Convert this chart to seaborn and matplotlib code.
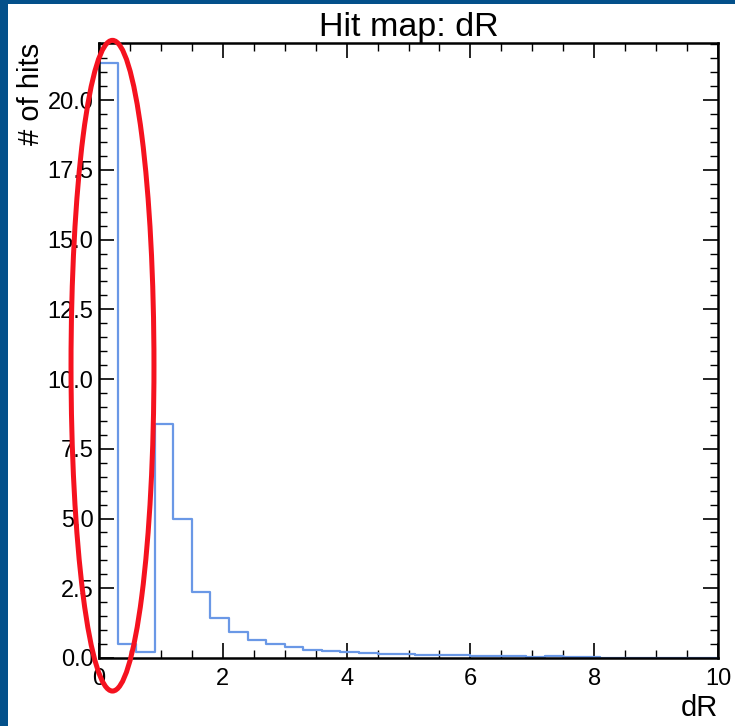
import numpy as np
import pandas as pd
import matplotlib
matplotlib.use("Agg")
import matplotlib.pyplot as plt
import seaborn as sns
from matplotlib.patches import Ellipse, Rectangle
from matplotlib.ticker import MultipleLocator

# bin edges of the dR histogram (width 0.3)
bin_edges = [round(0.3 * i, 2) for i in range(35)]
# counts per bin
counts = [21.35, 0.50, 0.22, 8.40, 5.00, 2.35, 1.42, 0.94, 0.66, 0.50,
          0.38, 0.30, 0.24, 0.20, 0.17, 0.16, 0.13, 0.10, 0.10, 0.09,
          0.08, 0.08, 0.07, 0.04, 0.06, 0.05, 0.05, 0.0, 0.0, 0.0,
          0.0, 0.0, 0.0, 0.0]
x_ticks = [0, 2, 4, 6, 8, 10]
y_ticks = [0.0, 2.5, 5.0, 7.5, 10.0, 12.5, 15.0, 17.5, 20.0]

centers = [(a + b) / 2 for a, b in zip(bin_edges[:-1], bin_edges[1:])]
df = pd.DataFrame({"dR": centers, "hits": counts})

sns.set_style("ticks")
plt.rcParams['font.family'] = ['Liberation Sans', 'DejaVu Sans']
plt.rcParams['text.color'] = 'black'
plt.rcParams['axes.labelcolor'] = 'black'

fig = plt.figure(figsize=(7.35, 7.26), dpi=100)
fig.patch.set_facecolor("#03508a")
# white canvas inside the blue frame
fig.patches.append(Rectangle((8 / 735, 0), 1 - 8 / 735, 1 - 4 / 726,
                             transform=fig.transFigure, facecolor="white",
                             edgecolor="none", zorder=-1))
ax = fig.add_axes([99 / 735, 1 - 658 / 726, 619 / 735, 615 / 726])

sns.histplot(data=df, x="dR", weights="hits", bins=bin_edges, element="step",
             fill=False, color="#6a98e6", linewidth=1.6, ax=ax)

ax.set_xlim(0, 10)
ax.set_ylim(0, 22.05)
ax.set_xticks(x_ticks)
ax.set_xticklabels([str(t) for t in x_ticks])
ax.set_yticks(y_ticks)
ax.set_yticklabels(["%.1f" % t for t in y_ticks])
ax.xaxis.set_minor_locator(MultipleLocator(0.5))
ax.yaxis.set_minor_locator(MultipleLocator(0.5))
ax.tick_params(which="both", direction="in", top=True, right=True,
               labelsize=17, colors="black")
ax.tick_params(axis="y", which="both", pad=4)
ax.tick_params(axis="x", which="both", pad=7)
ax.tick_params(which="major", length=11, width=1.2)
ax.tick_params(which="minor", length=5.5, width=1.0)
for s in ax.spines.values():
    s.set_linewidth(1.8)
    s.set_color("black")

ax.set_title("Hit map: dR", fontsize=24.5, pad=2, color="black")
ax.set_xlabel("dR", fontsize=21, loc="right", labelpad=3, color="black")
ax.set_ylabel("# of hits", fontsize=21, loc="top", labelpad=2, color="black")

# red highlight ellipse around the first bins
ax.add_patch(Ellipse((0.218, 10.48), 1.34, 23.33, fill=False,
                     edgecolor="#f5121f", linewidth=3.6, clip_on=False,
                     zorder=5))

fig.savefig("out.png", dpi=100, facecolor=fig.get_facecolor())
